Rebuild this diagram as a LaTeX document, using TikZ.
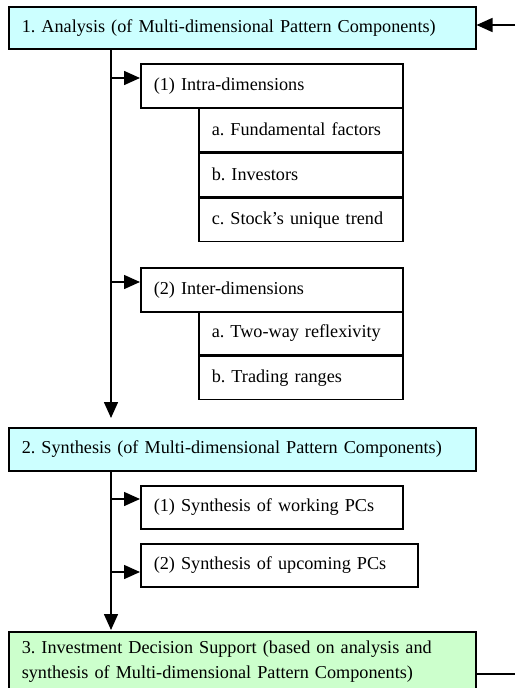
\documentclass[tikz,border=0pt]{standalone}
\usepackage{fontspec}
\setmainfont{Liberation Serif}
\usetikzlibrary{arrows.meta,positioning}
\definecolor{stagecyan}{HTML}{CCFFFF}
\definecolor{stagegreen}{HTML}{CCFFCC}

\begin{document}
\frenchspacing
\begin{tikzpicture}[
  x=1pt, y=-1pt,
  every node/.style={font=\fontsize{18.2}{25}\selectfont},
  box/.style={draw, line width=1.5pt, rectangle, anchor=north west,
              align=left, inner xsep=13pt, inner ysep=0pt},
  stage/.style={box, text width=441pt, minimum height=43pt},
  part/.style={box, text width=236pt, minimum height=44pt},
  item/.style={box, text width=178pt, minimum height=43.6pt},
  link/.style={line width=1.5pt},
  flow/.style={link, -{Triangle[length=16pt, width=14pt]}},
]
  \useasboundingbox (0,0) rectangle (515,688);

  % Stage 1: analysis ------------------------------------------------------
  \node[stage, fill=stagecyan, minimum height=42pt] (ana) at (8,6)
    {1. Analysis (of Multi-dimensional Pattern Components)};
  \node[part] (intra) at (140,63) {(1) Intra-dimensions};
  \node[item] (fund) at (198,107) {a. Fundamental factors};
  \node[item, below=0pt of fund] (inv) {b. Investors};
  \node[item, below=0pt of inv] (uniq) {c. Stock's unique trend};
  \node[part] (inter) at (140,267) {(2) Inter-dimensions};
  \node[item, minimum height=43pt] (refl) at (198,311) {a. Two-way reflexivity};
  \node[item, minimum height=43pt, below=0pt of refl] (rng) {b. Trading ranges};

  % Stage 2: synthesis -----------------------------------------------------
  \node[stage, fill=stagecyan] (syn) at (8,427)
    {2. Synthesis (of Multi-dimensional Pattern Components)};
  \node[part, minimum height=43pt] (work) at (140,485) {(1) Synthesis of working PCs};
  \node[part, text width=251pt, minimum height=43pt] (upc) at (140,543)
    {(2) Synthesis of upcoming PCs};

  % Stage 3: decision support ----------------------------------------------
  \node[stage, fill=stagegreen, minimum height=60pt] (dec) at (8,631)
    {3. Investment Decision Support (based on analysis and\\
     synthesis of Multi-dimensional Pattern Components)};

  % Connectors -------------------------------------------------------------
  \coordinate (spine) at (111,0);
  \coordinate (in1) at (111,78);
  \coordinate (in2) at (111,282);
  \coordinate (in3) at (111,499);
  \coordinate (in4) at (111,572);
  \coordinate (back) at (515,25);
  \coordinate (out) at (515,674);
  \draw[flow, shorten >=9pt] (spine |- ana.south) -- (spine |- syn.north);
  \draw[flow] (in1) -- (intra.west |- in1);
  \draw[flow] (in2) -- (inter.west |- in2);
  \draw[flow, shorten >=1pt] (spine |- syn.south) -- (spine |- dec.north);
  \draw[flow] (in3) -- (work.west |- in3);
  \draw[flow] (in4) -- (upc.west |- in4);
  \draw[link] (dec.east |- out) -- (out);
  \draw[flow] (back) -- (ana.east |- back);
\end{tikzpicture}
\end{document}
